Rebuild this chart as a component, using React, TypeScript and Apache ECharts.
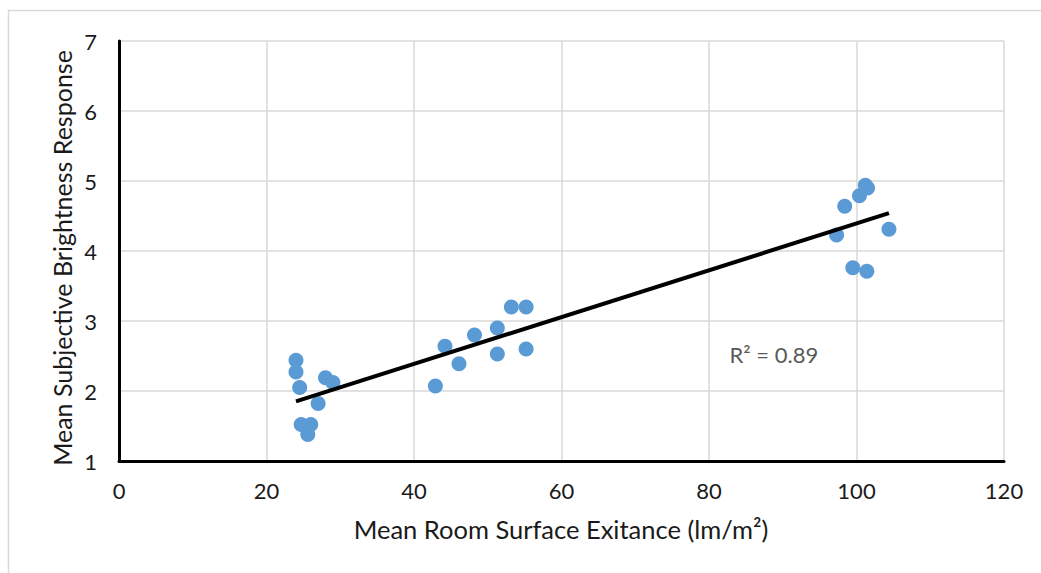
import React, { useEffect, useRef } from "react";
import * as echarts from "echarts";

const exitance: number[] = [
  24, 24, 24.5, 24.7, 26, 25.6, 27, 28, 29,
  42.9, 46.1, 44.2, 48.2, 51.3, 51.3, 53.2, 55.2, 55.2,
  98.4, 100.4, 101.2, 101.5, 97.3, 104.4, 99.5, 101.4,
];
const brightness: number[] = [
  2.44, 2.27, 2.05, 1.52, 1.52, 1.38, 1.82, 2.19, 2.12,
  2.07, 2.39, 2.64, 2.8, 2.9, 2.53, 3.2, 3.2, 2.6,
  4.64, 4.79, 4.94, 4.9, 4.23, 4.31, 3.76, 3.71,
];
const xTitle = "Mean Room Surface Exitance (lm/m²)";
const yTitle = "Mean Subjective Brightness Response";
const rSquaredLabel = "R² = 0.89";
const rLabelPos: [number, number] = [88.8, 2.52];

function regression(xs: number[], ys: number[]) {
  const n = xs.length;
  const mx = xs.reduce((a, b) => a + b, 0) / n;
  const my = ys.reduce((a, b) => a + b, 0) / n;
  let sxy = 0, sxx = 0;
  for (let i = 0; i < n; i++) {
    sxy += (xs[i] - mx) * (ys[i] - my);
    sxx += (xs[i] - mx) ** 2;
  }
  const slope = sxy / sxx;
  return { slope, intercept: my - slope * mx };
}

export default function App() {
  const ref = useRef<HTMLDivElement>(null);
  useEffect(() => {
    if (!ref.current) return;
    const chart = echarts.init(ref.current, null, { renderer: "svg" });
    const font = "Lato, 'Open Sans', sans-serif";
    const { slope, intercept } = regression(exitance, brightness);
    const xmin = Math.min(...exitance);
    const xmax = Math.max(...exitance);
    const trend = [
      [xmin, intercept + slope * xmin],
      [xmax, intercept + slope * xmax],
    ];
    chart.setOption({
      animation: false,
      backgroundColor: "#ffffff",
      grid: { left: 119, right: 37, top: 41, bottom: 112 },
      xAxis: {
        type: "value",
        min: 0,
        max: 120,
        interval: 20,
        axisLine: { show: true, onZero: false, lineStyle: { color: "#000", width: 3 } },
        axisTick: { show: false },
        axisLabel: { color: "#1a1a1a", fontSize: 22, fontFamily: font, margin: 18 },
        splitLine: { show: true, lineStyle: { color: "#d9d9d9", width: 1.5 } },
      },
      yAxis: {
        type: "value",
        min: 1,
        max: 7,
        interval: 1,
        axisLine: { show: true, onZero: false, lineStyle: { color: "#000", width: 3 } },
        axisTick: { show: false },
        axisLabel: { color: "#1a1a1a", fontSize: 22, fontFamily: font, margin: 22 },
        splitLine: { show: true, lineStyle: { color: "#d9d9d9", width: 1.5 } },
      },
      graphic: [
        {
          type: "rect",
          shape: { x: 8.5, y: 10.5, width: 1200, height: 1000 },
          style: { fill: "none", stroke: "#d9d9d9", lineWidth: 1.5 },
          silent: true,
        },
        {
          type: "text",
          x: 561,
          y: 529,
          style: {
            text: xTitle,
            fill: "#1a1a1a",
            font: `25.5px ${font}`,
            textAlign: "center",
            textVerticalAlign: "middle",
          },
        },
        {
          type: "text",
          x: 62,
          y: 258,
          rotation: Math.PI / 2,
          style: {
            text: yTitle,
            fill: "#1a1a1a",
            font: `25px ${font}`,
            textAlign: "center",
            textVerticalAlign: "middle",
          },
        },
      ],
      series: [
        {
          type: "line",
          data: trend,
          symbol: "none",
          lineStyle: { color: "#000", width: 4 },
          z: 3,
          markPoint: {
            symbol: "circle",
            symbolSize: 0,
            label: {
              show: true,
              formatter: rSquaredLabel,
              color: "#595959",
              fontSize: 22,
              fontFamily: font,
            },
            data: [{ coord: rLabelPos }],
          },
        },
        {
          type: "scatter",
          data: exitance.map((x, i) => [x, brightness[i]]),
          symbolSize: 15,
          itemStyle: { color: "#5b9bd5", opacity: 1 },
          z: 2,
        },
      ],
    });
    return () => chart.dispose();
  }, []);
  return (
    <div
      ref={ref}
      style={{ position: "fixed", left: 0, top: 0, width: 1041, height: 573 }}
    />
  );
}
